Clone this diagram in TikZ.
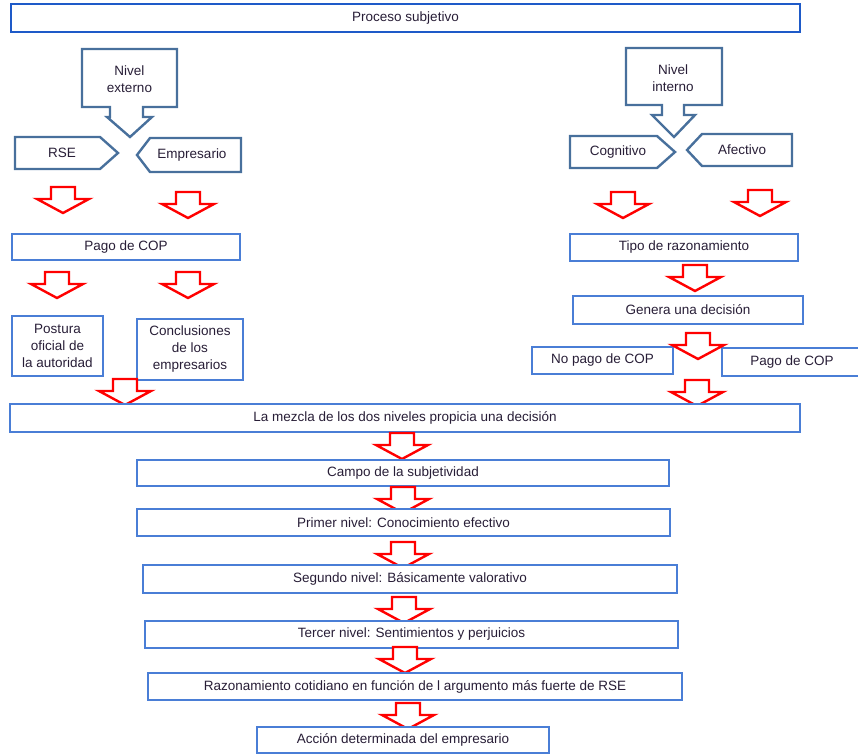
\documentclass[tikz,border=0pt]{standalone}
\usepackage{fontspec}
\setmainfont{Liberation Sans}
\usetikzlibrary{positioning}
\definecolor{cajaazul}{RGB}{74,126,214}
\definecolor{titazul}{RGB}{30,90,200}
\definecolor{llamada}{RGB}{72,112,156}
\definecolor{texto}{RGB}{40,30,55}

\begin{document}
\begin{tikzpicture}[x=1pt, y=-1pt,
    every node/.style={text=texto, font=\fontsize{13.5}{17}\selectfont, align=center, inner sep=0pt},
    caja/.style={draw=cajaazul, line width=1.1pt, fill=white},
    llam/.style={draw=llamada, line width=2.4pt, line join=miter, fill=white},
    flecha/.pic={\draw[red, line width=2.4pt, fill=white, line join=miter]
        (-12,0) -- (12,0) -- (12,12) -- (26,12) -- (0,26) -- (-26,12) -- (-12,12) -- cycle;}]

    \useasboundingbox (0,0) rectangle (858,754);

    \node[caja, draw=titazul, line width=1.5pt, minimum width=789pt, minimum height=28pt]
        (proc) at (405.5,18) {Proceso subjetivo};

    % nivel externo
    \draw[llam] (82,49) -- (177,49) -- (177,107) -- (143,107) -- (143,117) -- (152,117)
        -- (130,137) -- (107,117) -- (110,117) -- (110,107) -- (82,107) -- cycle;
    \node (ext) at (129.5,79) {Nivel\\externo};
    \draw[llam] (15,137) -- (100,137) -- (118,153) -- (100,169) -- (15,169) -- cycle;
    \node (rse) at (62,153) {RSE};
    \draw[llam] (150,138) -- (241,138) -- (241,172) -- (150,172) -- (137,155) -- cycle;
    \node (emp) at (192,155) {Empresario};

    % nivel interno
    \draw[llam] (626,48) -- (722,48) -- (722,105) -- (684,105) -- (684,115) -- (695,115)
        -- (674,137) -- (652,115) -- (662,115) -- (662,105) -- (626,105) -- cycle;
    \node (int) at (673,78) {Nivel\\interno};
    \draw[llam] (570,136) -- (657,136) -- (675,152) -- (657,168) -- (570,168) -- cycle;
    \node (cog) at (618,152) {Cognitivo};
    \draw[llam] (702,134) -- (792,134) -- (792,166) -- (702,166) -- (687,150) -- cycle;
    \node (afe) at (742,150) {Afectivo};

    \pic at (63,187) {flecha};
    \pic at (188,192) {flecha};
    \pic at (623,192) {flecha};
    \pic at (760,190) {flecha};

    % lado izquierdo
    \node[caja, minimum width=228pt, minimum height=26pt] (pago_i) at (126,247) {Pago de COP};
    \pic at (57,272) {flecha};
    \pic at (188,272) {flecha};
    \node[caja, minimum width=91pt, minimum height=60pt] (post) at (57.5,346) {Postura\\oficial de\\la autoridad};
    \node[caja, minimum width=106pt, minimum height=61pt] (concl) at (190,349.5) {Conclusiones\\de los\\empresarios};
    \pic at (125,379) {flecha};

    % lado derecho
    \node[caja, minimum width=228pt, minimum height=27pt] (tipo) at (684,247.5) {Tipo de razonamiento};
    \pic at (695,265) {flecha};
    \node[caja, minimum width=230pt, minimum height=28pt] (gen) at (688,310) {Genera una decisión};
    \node[caja, minimum width=141pt, minimum height=27pt] (nopago) at (602.5,360.5) {No pago de COP};
    \node[caja, minimum width=140pt, minimum height=28pt] (pago_d) at (792,362) {Pago de COP};
    \pic at (698,333) {flecha};
    \pic at (697,380) {flecha};

    % parte central
    \node[caja, minimum width=790pt, minimum height=28pt] (mezcla) at (405,418)
        {La mezcla de los dos niveles propicia una decisión};
    \pic at (402,433) {flecha};
    \node[caja, minimum width=532pt, minimum height=26pt] (campo) at (403,473) {Campo de la subjetividad};
    \pic at (403,487) {flecha};
    \node[caja, minimum width=533pt, minimum height=27pt] (n1) at (403.5,522.5) {Primer nivel: Conocimiento efectivo};
    \pic at (403,542) {flecha};
    \node[caja, minimum width=534pt, minimum height=28pt] (n2) at (410,579) {Segundo nivel: Básicamente valorativo};
    \pic at (404,597) {flecha};
    \node[caja, minimum width=533pt, minimum height=27pt] (n3) at (411.5,634.5) {Tercer nivel: Sentimientos y perjuicios};
    \pic at (405,647) {flecha};
    \node[caja, minimum width=534pt, minimum height=27pt] (razon) at (415,686.5)
        {Razonamiento cotidiano en función de l argumento más fuerte de RSE};
    \pic at (408,703) {flecha};
    \node[caja, minimum width=292pt, minimum height=26pt] (accion) at (403,740) {Acción determinada del empresario};

\end{tikzpicture}
\end{document}
